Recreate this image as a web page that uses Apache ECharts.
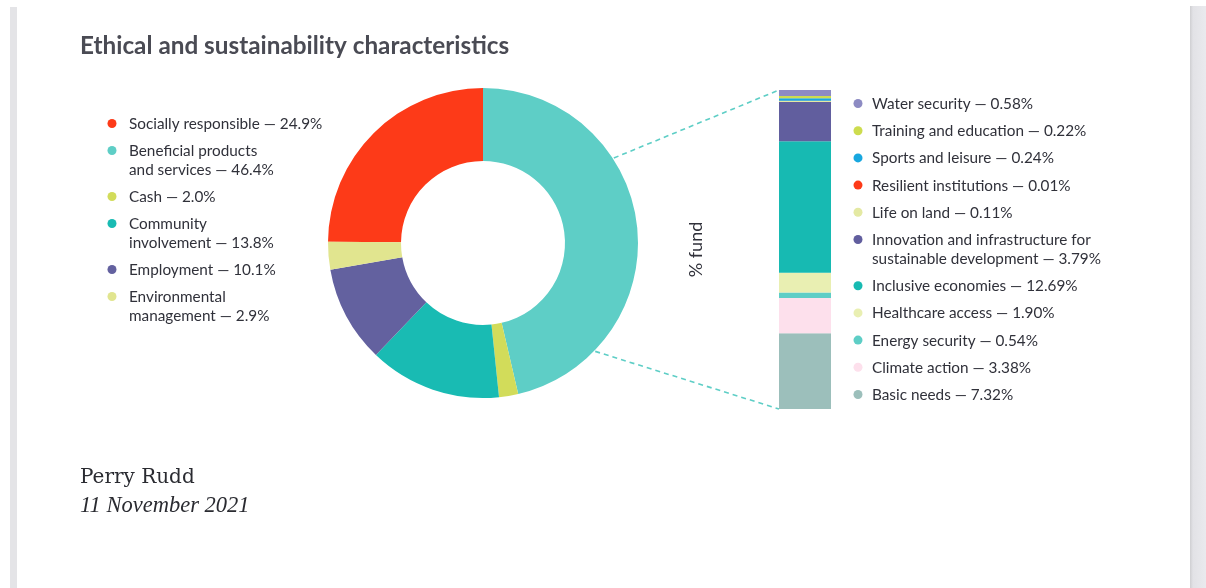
<!DOCTYPE html>
<html>
<head>
<meta charset="utf-8">
<script src="https://cdn.jsdelivr.net/npm/echarts@6/dist/echarts.min.js"></script>
<style>
  html, body { margin: 0; padding: 0; background: #fff; }
  #chart { position: absolute; left: 0; top: 0; width: 1206px; height: 588px; }
  .barL { position: absolute; left: 10px; top: 7px; width: 7px; height: 581px; background: #e4e4e7; }
  .barR { position: absolute; left: 1190px; top: 6px; width: 16px; height: 582px; background: linear-gradient(to right, #cfcfd2 0px, #e2e2e6 3px, #eaeaee 16px); }
</style>
</head>
<body>
<div class="barL"></div>
<div class="barR"></div>
<div id="chart"></div>
<script>
// ---- data ----
const titleText = 'Ethical and sustainability characteristics';
const pieNames = ['Socially responsible', 'Beneficial products\nand services', 'Cash', 'Community\ninvolvement', 'Employment', 'Environmental\nmanagement'];
const pieValues = [24.9, 46.4, 2.0, 13.8, 10.1, 2.9];
const pieColors = ['#fd3a18', '#5ecec6', '#d2dc5a', '#19bbb3', '#63619f', '#e1e58f'];

// stacked bar, listed top to bottom as in the legend
const barNames = ['Water security', 'Training and education', 'Sports and leisure', 'Resilient institutions', 'Life on land', 'Innovation and infrastructure for\nsustainable development', 'Inclusive economies', 'Healthcare access', 'Energy security', 'Climate action', 'Basic needs'];
const barValues = [0.58, 0.22, 0.24, 0.01, 0.11, 3.79, 12.69, 1.90, 0.54, 3.38, 7.32];
const barColors = ['#8d8bc3', '#cddc4e', '#18a7df', '#fd3a18', '#e4e9a3', '#615e9e', '#17bab2', '#e9efb2', '#5ecec6', '#fde0ec', '#9cbfbb'];
const barCategory = ['% fund'];
const author = 'Perry Rudd';
const dateText = '11 November 2021';

// ---- layout ----
const pieCenter = [483, 243];
const pieR = [82, 155];
const grid = { left: 779, top: 90, width: 52, height: 319 };
const textFont = '15.3px Lato';
const textColor = '#30313a';

const chart = echarts.init(document.getElementById('chart'), null, { renderer: 'canvas' });

const barTotal = barValues.reduce((a, b) => a + b, 0);
const pieTotal = pieValues.reduce((a, b) => a + b, 0);

// stacked series bottom -> top
const barSeries = [];
for (let i = barNames.length - 1; i >= 0; i--) {
  barSeries.push({
    type: 'bar', stack: 'fund', name: barNames[i], barWidth: '100%',
    data: [barValues[i]],
    itemStyle: { color: barColors[i] },
    silent: true
  });
}

function legendGraphics(names, values, colors, digits, cx, tx, y0, gap) {
  const out = [];
  let y = y0;
  const lh = 19;
  names.forEach((n, i) => {
    const lines = n.split('\n');
    lines[lines.length - 1] += ' \u2014 ' + values[i].toFixed(digits) + '%';
    out.push({ type: 'circle', shape: { cx: cx, cy: y - 0.5, r: 4.5 }, style: { fill: colors[i] }, silent: true });
    out.push({ type: 'text', x: tx, y: y - lh / 2, style: { text: lines.join('\n'), font: textFont, fill: textColor, lineHeight: lh, verticalAlign: 'top' }, silent: true });
    y += lines.length * lh + gap;
  });
  return out;
}

function connector(angleDeg, x2, y2) {
  const a = angleDeg * Math.PI / 180;
  const r = pieR[1] + 1;
  return { type: 'line', shape: { x1: pieCenter[0] + r * Math.cos(a), y1: pieCenter[1] - r * Math.sin(a), x2: x2, y2: y2 },
           style: { stroke: '#5ecec6', lineWidth: 1.6, lineDash: [5, 4] }, silent: true };
}

const graphics = [].concat(
  legendGraphics(pieNames, pieValues, pieColors, 1, 112, 129, 124, 8),
  legendGraphics(barNames, barValues, barColors, 2, 858, 872, 104, 8.2),
  [
    connector(33, grid.left, grid.top),
    connector(-44, grid.left, grid.top + grid.height),
    { type: 'text', x: 80, y: 478, style: { text: author, font: '20px "DejaVu Serif"', fill: '#2a2b31', verticalAlign: 'middle' }, silent: true },
    { type: 'text', x: 80, y: 506, style: { text: dateText, font: 'italic 22.5px "Liberation Serif"', fill: '#2a2b31', verticalAlign: 'middle' }, silent: true }
  ]
);

chart.setOption({
  animation: false,
  title: { text: titleText, left: 75, top: 29, textStyle: { fontFamily: 'Lato', fontWeight: 'bold', fontSize: 24.3, color: '#4a4b54' } },
  grid: grid,
  xAxis: { type: 'category', data: barCategory, show: false },
  yAxis: {
    type: 'value', min: 0, max: barTotal,
    name: barCategory[0], nameLocation: 'middle', nameGap: 74,
    nameTextStyle: { fontFamily: 'Lato', fontSize: 18, color: textColor },
    axisLine: { show: false }, axisTick: { show: false }, axisLabel: { show: false }, splitLine: { show: false }
  },
  series: [{
    type: 'pie', center: pieCenter, radius: pieR,
    startAngle: 90 + pieValues[0] / pieTotal * 360,
    label: { show: false }, labelLine: { show: false }, silent: true,
    data: pieNames.map((n, i) => ({ name: n, value: pieValues[i], itemStyle: { color: pieColors[i] } }))
  }].concat(barSeries),
  graphic: graphics
});
</script>
</body>
</html>
